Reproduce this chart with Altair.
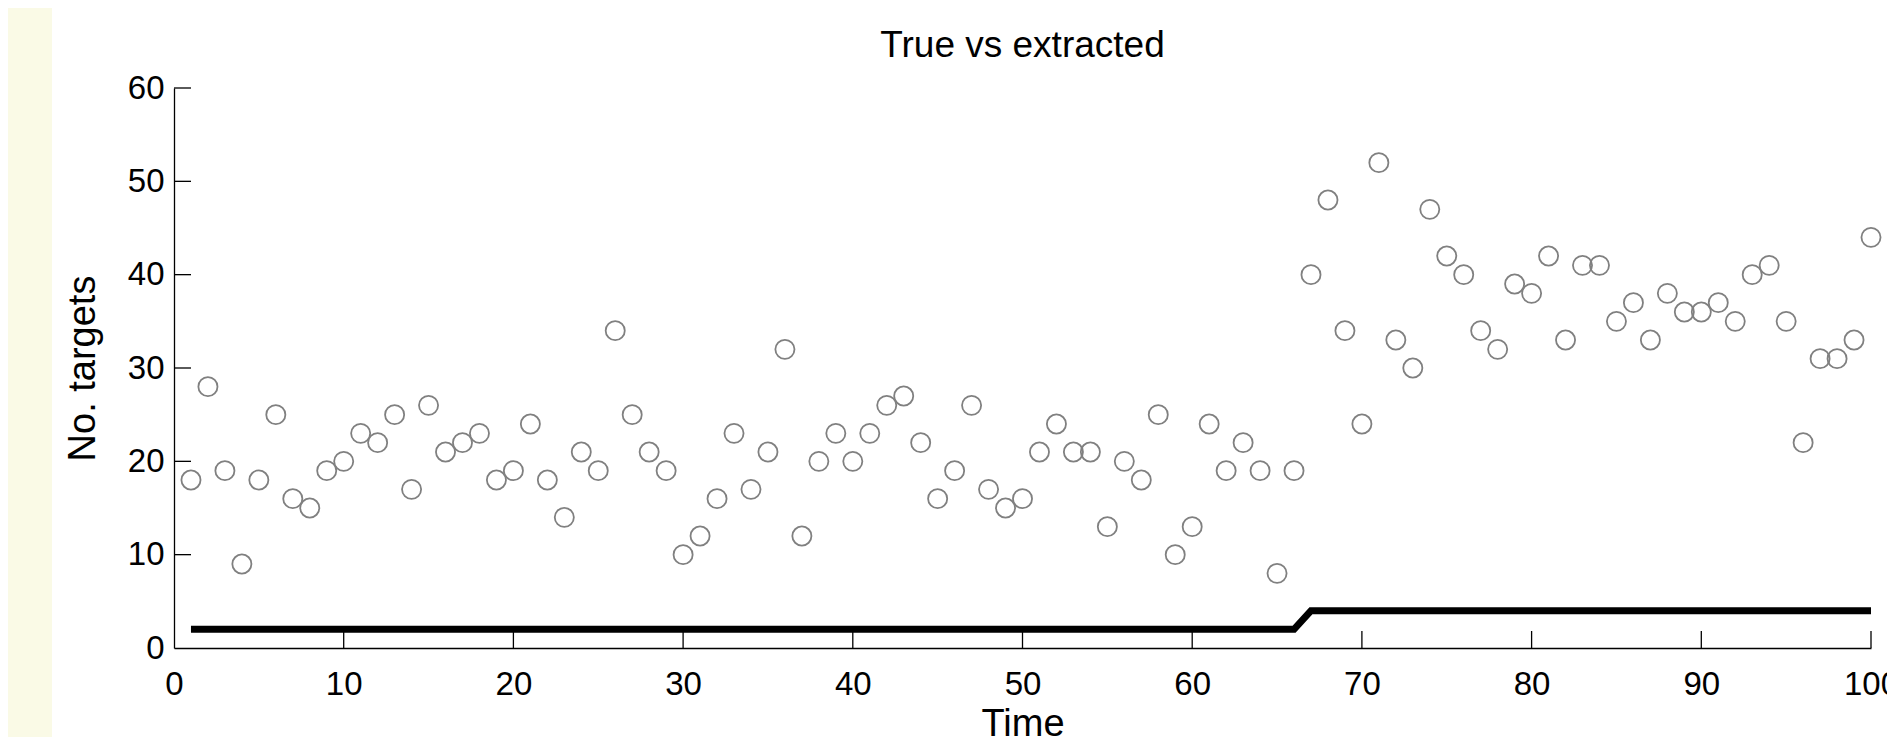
import altair as alt
import pandas as pd

# ---- data ----
time_steps = list(range(1, 101))
extracted = [
    18, 28, 19, 9, 18, 25, 16, 15, 19, 20,
    23, 22, 25, 17, 26, 21, 22, 23, 18, 19,
    24, 18, 14, 21, 19, 34, 25, 21, 19, 10,
    12, 16, 23, 17, 21, 32, 12, 20, 23, 20,
    23, 26, 27, 22, 16, 19, 26, 17, 15, 16,
    21, 24, 21, 21, 13, 20, 18, 25, 10, 13,
    24, 19, 22, 19, 8, 19, 40, 48, 34, 24,
    52, 33, 30, 47, 42, 40, 34, 32, 39, 38,
    42, 33, 41, 41, 35, 37, 33, 38, 36, 36,
    37, 35, 40, 41, 35, 22, 31, 31, 33, 44,
]
true_t = [1, 66, 67, 100]
true_n = [2, 2, 4, 4]

x_ticks = [0, 10, 20, 30, 40, 50, 60, 70, 80, 90, 100]
y_ticks = [0, 10, 20, 30, 40, 50, 60]
x_tick_marks = [10, 20, 30, 40, 50, 60, 70, 80, 90, 100]
y_tick_marks = [10, 20, 30, 40, 50, 60]

W, H = 1697, 560
PAD_L, PAD_T, PAD_R, PAD_B = 166, 80, 16, 89
FONT = "Liberation Sans"
LFS = 33   # tick labels
AFS = 38   # axis titles
TFS = 37   # chart title
TICK_LEN = 17

pts = pd.DataFrame({"Time": time_steps, "n": extracted})
truth = pd.DataFrame({"Time": true_t, "n": true_n})
xtick_df = pd.DataFrame({"Time": x_tick_marks})
ytick_df = pd.DataFrame({"n": y_tick_marks})

xscale = alt.Scale(domain=[0, 100], nice=False, zero=False)
yscale = alt.Scale(domain=[0, 60], nice=False, zero=False)

x_axis = alt.Axis(
    values=x_ticks, ticks=False, tickSize=0, grid=False, zindex=1,
    domainColor="black", domainWidth=1.3,
    labelFont=FONT, labelFontSize=LFS, labelColor="black", labelPadding=20,
    labelFlush=False, labelOverlap=False,
    title="Time", titleFont=FONT, titleFontSize=AFS, titleColor="black",
    titleFontWeight="normal", titleBaseline="alphabetic", titleY=87,
)
y_axis = alt.Axis(
    values=y_ticks, ticks=False, tickSize=0, grid=False, zindex=1,
    domainColor="black", domainWidth=1.3,
    labelFont=FONT, labelFontSize=LFS, labelColor="black", labelPadding=10,
    labelFlush=False, labelOverlap=False,
    title="No. targets", titleFont=FONT, titleFontSize=AFS, titleColor="black",
    titleFontWeight="normal", titleBaseline="alphabetic", titleX=-80,
)

X = alt.X("Time:Q", scale=xscale, axis=x_axis, title="Time")
Y = alt.Y("n:Q", scale=yscale, axis=y_axis, title="No. targets")

# pale-yellow strip at the far left of the reference page
strip = alt.Chart(pd.DataFrame({"k": [0]})).mark_rect(color="#fafae6").encode(
    x=alt.value(-PAD_L), x2=alt.value(-122),
    y=alt.value(-PAD_T), y2=alt.value(H + PAD_B),
)

line = alt.Chart(truth).mark_line(
    color="black", strokeWidth=7, strokeCap="butt", strokeJoin="miter"
).encode(x=X, y=Y)

points = alt.Chart(pts).mark_point(
    shape="circle", size=365, filled=False, color="#808080", strokeWidth=1.8, opacity=1
).encode(x=X, y=Y)

xt = alt.Chart(xtick_df).mark_tick(
    color="black", thickness=1.3, size=TICK_LEN, orient="vertical", opacity=1
).encode(x=X, y=alt.value(H - TICK_LEN / 2))

yt = alt.Chart(ytick_df).mark_tick(
    color="black", thickness=1.3, size=TICK_LEN, orient="horizontal", opacity=1
).encode(y=Y, x=alt.value(TICK_LEN / 2))

chart = alt.layer(strip, line, points, xt, yt).properties(
    width=W,
    height=H,
    title=alt.TitleParams(
        "True vs extracted", font=FONT, fontSize=TFS, fontWeight="normal",
        color="black", baseline="bottom", anchor="middle", offset=6, dy=100,
    ),
    background="white",
    autosize=alt.AutoSizeParams(type="none"),
    padding={"left": PAD_L, "top": PAD_T, "right": PAD_R, "bottom": PAD_B},
).configure_view(stroke=None)

chart.save("out.html", embed_options={"renderer": "svg", "actions": False})
